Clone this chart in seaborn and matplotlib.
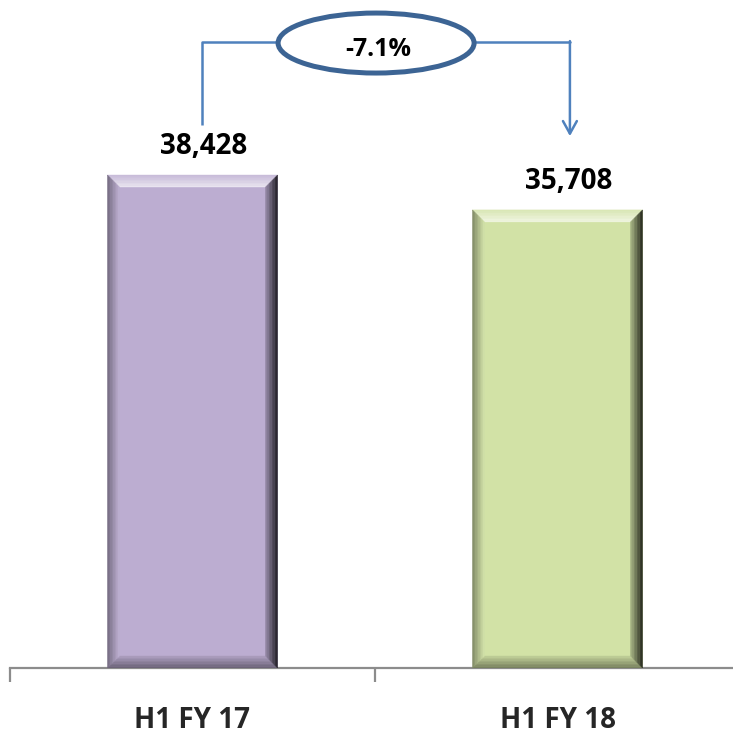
import numpy as np
import pandas as pd
import seaborn as sns
import matplotlib.pyplot as plt
from matplotlib.patches import Ellipse, Polygon
from matplotlib.colors import to_rgb

# Data
periods = ["H1 FY 17", "H1 FY 18"]
values = [38428, 35708]
value_labels = ["38,428", "35,708"]
bar_colors = ["#BCADD1", "#D2E2A6"]
change_label = "-7.1%"

sns.set_style("white")
plt.rcParams['font.family'] = ['Open Sans', 'DejaVu Sans']

df = pd.DataFrame({"Period": periods, "Value": values})

fig = plt.figure(figsize=(7.33, 7.38), dpi=100)
ax = fig.add_axes([10 / 733, 1 - 668 / 738, 730 / 733, 668 / 738])

sns.barplot(data=df, x="Period", y="Value", hue="Period", palette=bar_colors,
            width=0.466, saturation=1, legend=False, ax=ax)
ax.set_xlim(-0.5, 1.5)
ax.set_ylim(0, 52070)


def mix(c, other, t):
    c = np.array(to_rgb(c))
    o = np.array(to_rgb(other))
    return tuple(c * (1 - t) + o * t)


#Bevel effect, built from the bar patches
def bevel(ax, patch, color, px=12, n=8):
    x0, y0 = patch.get_x(), patch.get_y()
    x1, y1 = x0 + patch.get_width(), y0 + patch.get_height()
    xr = ax.get_xlim()[1] - ax.get_xlim()[0]
    yr = ax.get_ylim()[1] - ax.get_ylim()[0]
    dx = px * xr / ax.bbox.width
    dy = px * yr / ax.bbox.height
    sides = {
        "top": (mix(color, "white", 0.15), mix(color, "white", 0.7)),
        "left": (mix(color, "black", 0.4), mix(color, "white", 0.05)),
        "right": (mix(color, "black", 0.85), mix(color, "black", 0.2)),
        "bottom": (mix(color, "black", 0.45), mix(color, "black", 0.08)),
    }
    for i in range(n):
        a, b = i / n, (i + 1) / n
        t = (i + 0.5) / n
        ox0, ox1, oy0, oy1 = x0 + a * dx, x1 - a * dx, y0 + a * dy, y1 - a * dy
        ix0, ix1, iy0, iy1 = x0 + b * dx, x1 - b * dx, y0 + b * dy, y1 - b * dy
        quads = {
            "top": [(ox0, oy1), (ox1, oy1), (ix1, iy1), (ix0, iy1)],
            "bottom": [(ox0, oy0), (ox1, oy0), (ix1, iy0), (ix0, iy0)],
            "left": [(ox0, oy0), (ox0, oy1), (ix0, iy1), (ix0, iy0)],
            "right": [(ox1, oy0), (ox1, oy1), (ix1, iy1), (ix1, iy0)],
        }
        for side, pts in quads.items():
            c_out, c_in = sides[side]
            col = tuple(np.array(c_out) * (1 - t) + np.array(c_in) * t)
            ax.add_patch(Polygon(pts, closed=True, facecolor=col, edgecolor=col,
                                 lw=0.3, zorder=3))


for patch, col in zip(ax.patches[:len(values)], bar_colors):
    bevel(ax, patch, col)

#Value labels
for i, (v, lab) in enumerate(zip(values, value_labels)):
    ax.annotate(lab, xy=(i + 0.03, v), xytext=(0, 15), textcoords="offset points",
                ha="center", va="baseline", fontsize=20, fontweight="bold", color="black")

#Change bracket with ellipse
top_y = 48795
line_col = "#4F81BD"
ax.plot([0.026, 0.026, 0.29], [values[0] + 3900, top_y, top_y], color=line_col,
        lw=1.8, solid_capstyle="butt", clip_on=False, zorder=4)
ax.plot([0.77, 1.034], [top_y, top_y], color=line_col, lw=1.8, clip_on=False, zorder=4)
ax.annotate("", xy=(1.034, values[1] + 5750), xytext=(1.034, top_y + 70),
            arrowprops=dict(arrowstyle="->,head_length=0.9,head_width=0.5",
                            color=line_col, lw=1.8, shrinkA=0, shrinkB=0),
            zorder=4, annotation_clip=False)
ax.add_patch(Ellipse((0.503, top_y - 80), 0.537, 4677, facecolor="white",
                     edgecolor="#3C6494", lw=3.6, zorder=5, clip_on=False))
ax.text(0.51, 47703, change_label, ha="center", va="baseline", fontsize=18,
        fontweight="bold", color="black", zorder=6)

#Axis styling
for s in ["left", "top", "right"]:
    ax.spines[s].set_visible(False)
ax.spines["bottom"].set_color("#8C8C8C")
ax.spines["bottom"].set_linewidth(1.6)
ax.set_yticks([])
ax.set_xticks([0, 1])
ax.set_xticklabels(periods, fontsize=20, fontweight="bold")
ax.set_xticks([-0.5, 0.5, 1.5], minor=True)
ax.tick_params(axis="x", which="major", bottom=True, length=0, pad=27)
ax.tick_params(axis="x", which="minor", bottom=True, length=10, width=1.6,
               color="#8C8C8C", direction="out")
ax.set_xlabel("")
ax.set_ylabel("")

plt.savefig("out.png", dpi=100)
